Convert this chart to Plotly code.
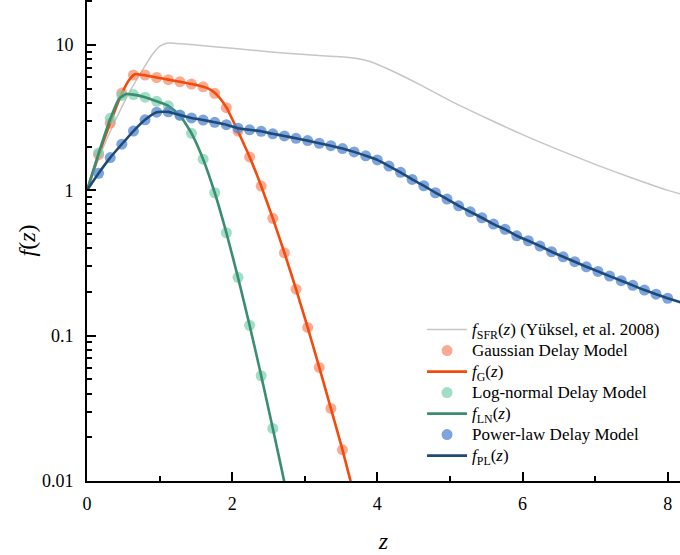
import plotly.graph_objects as go

# ---------------- data ----------------
z_pts = [0.16, 0.32, 0.48, 0.64, 0.80, 0.96, 1.12, 1.28, 1.44, 1.60, 1.76, 1.92, 2.08, 2.24,
         2.40, 2.56, 2.72, 2.88, 3.04, 3.20, 3.36, 3.52, 3.68, 3.84, 4.00, 4.16, 4.32, 4.48,
         4.64, 4.80, 4.96, 5.12, 5.28, 5.44, 5.60, 5.76, 5.92, 6.08, 6.24, 6.40, 6.56, 6.72,
         6.88, 7.04, 7.20, 7.36, 7.52, 7.68, 7.84, 8.00]

# Gaussian delay model points
gauss_pts = [1.76, 2.90, 4.67, 6.22, 6.22, 5.98, 5.78, 5.59, 5.39, 5.16, 4.65, 3.71, 2.56, 1.70,
             1.07, 0.642, 0.372, 0.209, 0.114, 0.0605, 0.0316, 0.0164]
# Log-normal delay model points
lognorm_pts = [1.81, 3.13, 4.50, 4.56, 4.38, 4.10, 3.82, 3.28, 2.47, 1.64, 0.963, 0.511, 0.252,
               0.118, 0.053, 0.023]
# Power-law delay model points
power_pts = [1.31, 1.68, 2.08, 2.56, 3.06, 3.45, 3.47, 3.30, 3.15, 3.05, 2.94, 2.83, 2.68, 2.61,
             2.55, 2.45, 2.37, 2.28, 2.20, 2.11, 2.03, 1.94, 1.84, 1.73, 1.62, 1.47, 1.33, 1.19,
             1.076, 0.963, 0.871, 0.783, 0.712, 0.648, 0.586, 0.539, 0.487, 0.450, 0.414, 0.378,
             0.349, 0.323, 0.298, 0.277, 0.257, 0.239, 0.222, 0.206, 0.193, 0.181]

# Fitted curves
z_g = [0, 0.16, 0.32, 0.48, 0.58, 0.66, 0.74, 0.80, 0.96, 1.12, 1.28, 1.44, 1.60, 1.68, 1.76,
       1.84, 1.92, 2.00, 2.08, 2.24, 2.40, 2.56, 2.72, 2.88, 3.04, 3.20, 3.36, 3.52, 3.66]
f_g = [1.0, 1.75, 2.92, 4.65, 5.75, 6.30, 6.25, 6.20, 5.98, 5.78, 5.59, 5.39, 5.16, 5.00, 4.70,
       4.25, 3.72, 3.10, 2.55, 1.70, 1.07, 0.642, 0.372, 0.209, 0.114, 0.0605, 0.0316, 0.0164,
       0.0088]

z_ln = [0, 0.16, 0.32, 0.44, 0.54, 0.64, 0.80, 0.96, 1.12, 1.28, 1.44, 1.60, 1.76, 1.92, 2.08,
        2.24, 2.40, 2.56, 2.72, 2.76]
f_ln = [1.0, 1.80, 3.10, 4.25, 4.60, 4.56, 4.38, 4.10, 3.82, 3.28, 2.47, 1.64, 0.963, 0.511,
        0.252, 0.118, 0.053, 0.023, 0.0098, 0.0077]

z_pl = [0] + z_pts + [8.2]
f_pl = [1.0] + power_pts + [0.168]

# Star formation rate (Yuksel et al. 2008), normalised
z_sfr = [0, 0.2, 0.4, 0.6, 0.8, 0.9, 1.0, 1.1, 1.2, 1.5, 2.0, 2.5, 3.0, 3.4, 3.7, 3.9, 4.1,
         4.3, 4.6, 5.0, 5.5, 6.0, 6.5, 7.0, 7.5, 8.0, 8.2]
f_sfr = [1.0, 1.85, 3.10, 4.90, 7.20, 8.60, 9.80, 10.3, 10.3, 10.0, 9.5, 9.0, 8.6, 8.35, 8.1,
         7.7, 7.0, 6.3, 5.3, 4.15, 3.15, 2.42, 1.90, 1.51, 1.22, 1.0, 0.94]

y_major = [0.01, 0.1, 1, 10]
y_major_text = ["0.01", "0.1", "1", "10"]
x_major = [0, 2, 4, 6, 8]
x_minor = [1, 3, 5, 7]

# ---------------- figure ----------------
FONT = "Liberation Serif, Times New Roman, serif"
MS = 11


def lg(txt):
    return '<span style="font-size:17px">' + txt + '</span>'


fig = go.Figure()
fig.add_trace(go.Scatter(x=z_sfr, y=f_sfr, mode="lines",
                         line=dict(color="#c6c6c6", width=1.5, shape="spline", smoothing=0.6),
                         name=lg("<i>f</i><sub>SFR</sub>(<i>z</i>) (Yüksel, et al. 2008)")))
fig.add_trace(go.Scatter(x=z_pts[:len(gauss_pts)], y=gauss_pts, mode="markers",
                         marker=dict(color="rgba(250,135,100,0.70)", size=MS),
                         name=lg("Gaussian Delay Model")))
fig.add_trace(go.Scatter(x=z_g, y=f_g, mode="lines",
                         line=dict(color="#f44a0c", width=2.6, shape="spline", smoothing=0.5),
                         name=lg("<i>f</i><sub>G</sub>(<i>z</i>)")))
fig.add_trace(go.Scatter(x=z_pts[:len(lognorm_pts)], y=lognorm_pts, mode="markers",
                         marker=dict(color="rgba(120,208,172,0.70)", size=MS),
                         name=lg("Log-normal Delay Model")))
fig.add_trace(go.Scatter(x=z_ln, y=f_ln, mode="lines",
                         line=dict(color="#3b8d70", width=2.6, shape="spline", smoothing=0.5),
                         name=lg("<i>f</i><sub>LN</sub>(<i>z</i>)")))
fig.add_trace(go.Scatter(x=z_pts, y=power_pts, mode="markers",
                         marker=dict(color="rgba(85,135,212,0.76)", size=MS),
                         name=lg("Power-law Delay Model")))
fig.add_trace(go.Scatter(x=z_pl, y=f_pl, mode="lines",
                         line=dict(color="#1e4a78", width=2.6, shape="spline", smoothing=0.5),
                         name=lg("<i>f</i><sub>PL</sub>(<i>z</i>)")))

y_minor = [m * d for d in (0.01, 0.1, 1, 10) for m in range(2, 10)]
tickfont = dict(family=FONT, size=18, color="black", weight=400)

fig.update_layout(
    width=680, height=555,
    margin=dict(l=87, r=0, t=0, b=74),
    paper_bgcolor="white", plot_bgcolor="white",
    font=dict(family=FONT, size=17, color="black"),
    showlegend=True,
    legend=dict(x=0.565, y=0.347, xanchor="left", yanchor="top",
                bgcolor="rgba(0,0,0,0)", font=dict(family=FONT, size=13.85, color="black"),
                itemwidth=40, tracegroupgap=0),
    xaxis=dict(range=[0, 8.17], tickvals=x_major, ticktext=[str(v) for v in x_major],
               tickfont=tickfont,
               ticks="inside", ticklen=9, tickwidth=1.5, tickcolor="black",
               showline=True, linewidth=2, linecolor="black",
               showgrid=False, zeroline=False, ticklabelstandoff=5,
               minor=dict(tickvals=x_minor, ticks="inside", ticklen=5, tickwidth=1.5,
                          tickcolor="black", showgrid=False),
               title=dict(text="<i>z</i>", font=dict(family=FONT, size=24), standoff=20)),
    yaxis=dict(type="log", range=[-2, 1.31], tickvals=y_major, ticktext=y_major_text,
               tickfont=tickfont,
               ticks="inside", ticklen=9, tickwidth=1.5, tickcolor="black",
               showline=True, linewidth=2, linecolor="black",
               showgrid=False, zeroline=False, ticklabelstandoff=8,
               minor=dict(tickvals=y_minor, ticks="inside", ticklen=5, tickwidth=1.5,
                          tickcolor="black", showgrid=False),
               title=dict(text="<i>f</i>(<i>z</i>)", font=dict(family=FONT, size=24), standoff=0)),
    yaxis2=dict(type="log", range=[-2, 1.31], overlaying="y", side="right", anchor="x",
                tickvals=y_major, showticklabels=False,
                ticks="inside", ticklen=7, tickwidth=1.5, tickcolor="black",
                showline=False, showgrid=False, zeroline=False,
                minor=dict(tickvals=y_minor, ticks="inside", ticklen=2, tickwidth=1.5,
                           tickcolor="black", showgrid=False)),
)

fig.write_html("out.html", config={"displayModeBar": False},
               post_script="document.body.style.margin='0px';document.body.style.padding='0px';"
                           "document.documentElement.style.overflow='hidden';")
